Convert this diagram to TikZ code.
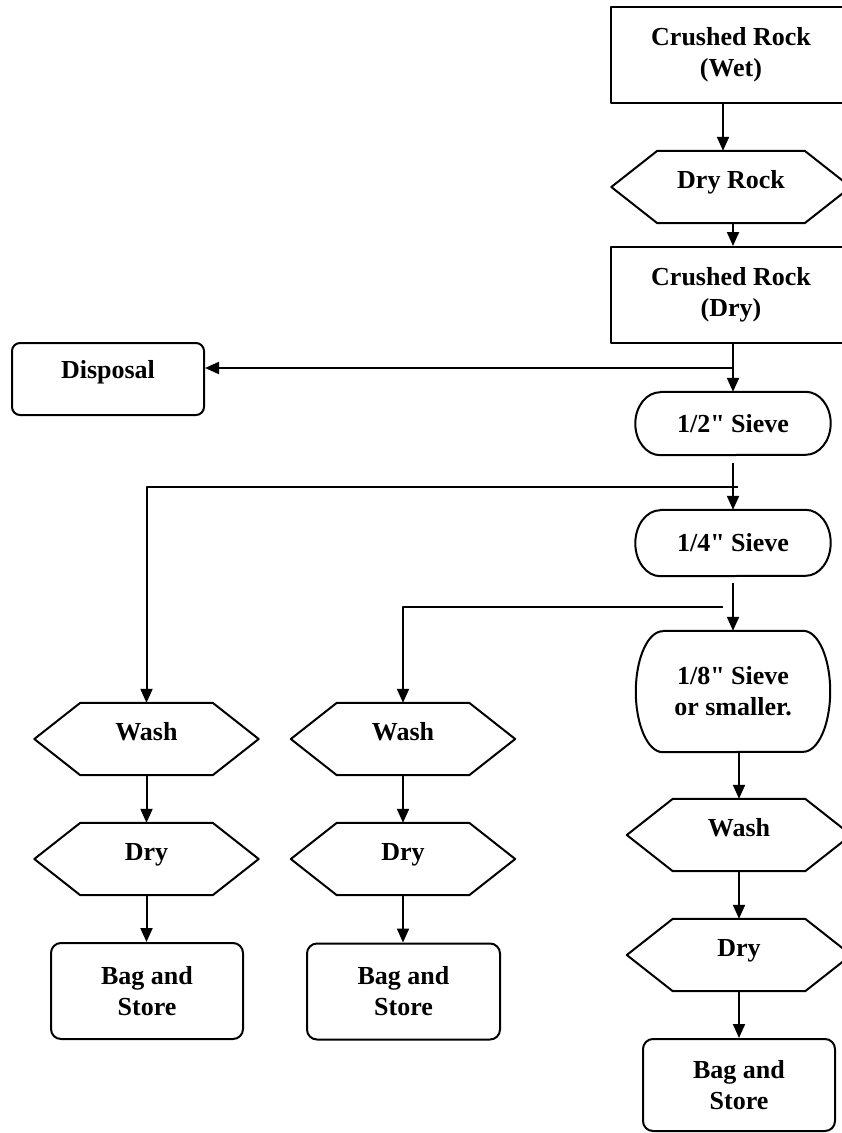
\documentclass[tikz,border=0pt]{standalone}
\usepackage{fontspec}
\setmainfont{Liberation Serif}[Ligatures=TeXOff]
\usetikzlibrary{arrows.meta}
\begin{document}
\begin{tikzpicture}[x=1pt,y=-1pt,>={Triangle[length=14pt,width=12pt]},line join=round,
    every node/.style={font=\fontsize{26}{31}\selectfont\bfseries,align=center,inner sep=0pt},
    box/.style={draw,line width=2pt,minimum width=240pt,minimum height=96pt},
    rbox/.style={draw,line width=2pt,rounded corners=10pt,minimum width=192pt,minimum height=96pt},
    sieve/.style={minimum width=195pt,minimum height=64pt},
    hexa/.style={minimum width=224pt,minimum height=72pt,text height=17pt,text depth=14pt},
    link/.style={->,line width=2pt}]
    \useasboundingbox (0,0) rectangle (842,1133);
    \clip (0,0) rectangle (842,1133);
    \def\lx{146.5} \def\mx{403} \def\rx{739}
    % main column
    \node[box] (wet) at (731,55) {Crushed Rock\\(Wet)};
    \node[hexa,minimum width=239pt] (dryrock) at (731,187) {Dry Rock};
    \node[box] (drycrushed) at (731,295) {Crushed Rock\\(Dry)};
    \node[rbox,minimum height=72pt,rounded corners=8pt,text height=17pt,text depth=18pt] (disposal) at (108,379) {Disposal};
    \node[sieve,minimum height=63pt] (half) at (733,423.5) {1/2" Sieve};
    \node[sieve,minimum height=66pt] (quarter) at (733,543) {1/4" Sieve};
    \node[sieve,minimum width=194pt,minimum height=121pt] (eighth) at (733,691.5) {1/8" Sieve\\or smaller.};
    % three branches
    \node[hexa] (washL) at (\lx,739) {Wash};
    \node[hexa] (dryL) at (\lx,859) {Dry};
    \node[rbox] (bagL) at (147,991) {Bag and\\Store};
    \node[hexa] (washM) at (\mx,739) {Wash};
    \node[hexa] (dryM) at (\mx,859) {Dry};
    \node[rbox,minimum width=193pt] (bagM) at (403.5,991.5) {Bag and\\Store};
    \node[hexa] (washR) at (\rx,835) {Wash};
    \node[hexa] (dryR) at (\rx,955) {Dry};
    \node[rbox,minimum height=92pt] (bagR) at (\rx,1085) {Bag and\\Store};
    \foreach \h in {dryrock,washL,dryL,washM,dryM,washR,dryR}
        \draw[line width=2pt] (\h.west) -- ([xshift=46pt]\h.north west) -- ([xshift=-46pt]\h.north east)
            -- (\h.east) -- ([xshift=-46pt]\h.south east) -- ([xshift=46pt]\h.south west) -- cycle;
    \foreach \s/\a/\b in {half/25/31.5,quarter/25/33,eighth/27/60.5}
        \draw[line width=2pt] ([xshift=\a pt]\s.north west) -- ([xshift=-\a pt]\s.north east)
            arc[start angle=90,end angle=-90,x radius=\a pt,y radius=\b pt]
            -- ([xshift=\a pt]\s.south west)
            arc[start angle=270,end angle=90,x radius=\a pt,y radius=\b pt] -- cycle;
    % connectors
    \coordinate (split1) at (733,368);
    \coordinate (split2) at (738,487);
    \coordinate (split3) at (723,607);
    \draw[link] ([xshift=-8pt]wet.south) -- ([xshift=-8pt]wet.south |- dryrock.north);
    \draw[link] ([xshift=2pt]dryrock.south) -- ([xshift=2pt]dryrock.south |- drycrushed.north);
    \draw[link] (drycrushed.south -| half) -- (half.north);
    \draw[link] (split1) -- (split1 -| disposal.east);
    \draw[link] ([yshift=-8pt]half.south) -- (quarter.north);
    \draw[link] (split2) -| (washL.north);
    \draw[link] ([yshift=-7pt]quarter.south) -- (eighth.north);
    \draw[link] (split3) -| (washM.north);
    \draw[link] (eighth.south -| washR) -- (washR.north);
    \draw[link] (washL) -- (dryL);
    \draw[link] (dryL.south) -- (dryL.south |- bagL.north);
    \draw[link] (washM) -- (dryM);
    \draw[link] (dryM.south) -- (dryM.south |- bagM.north);
    \draw[link] (washR) -- (dryR);
    \draw[link] (dryR) -- (bagR);
\end{tikzpicture}
\end{document}
